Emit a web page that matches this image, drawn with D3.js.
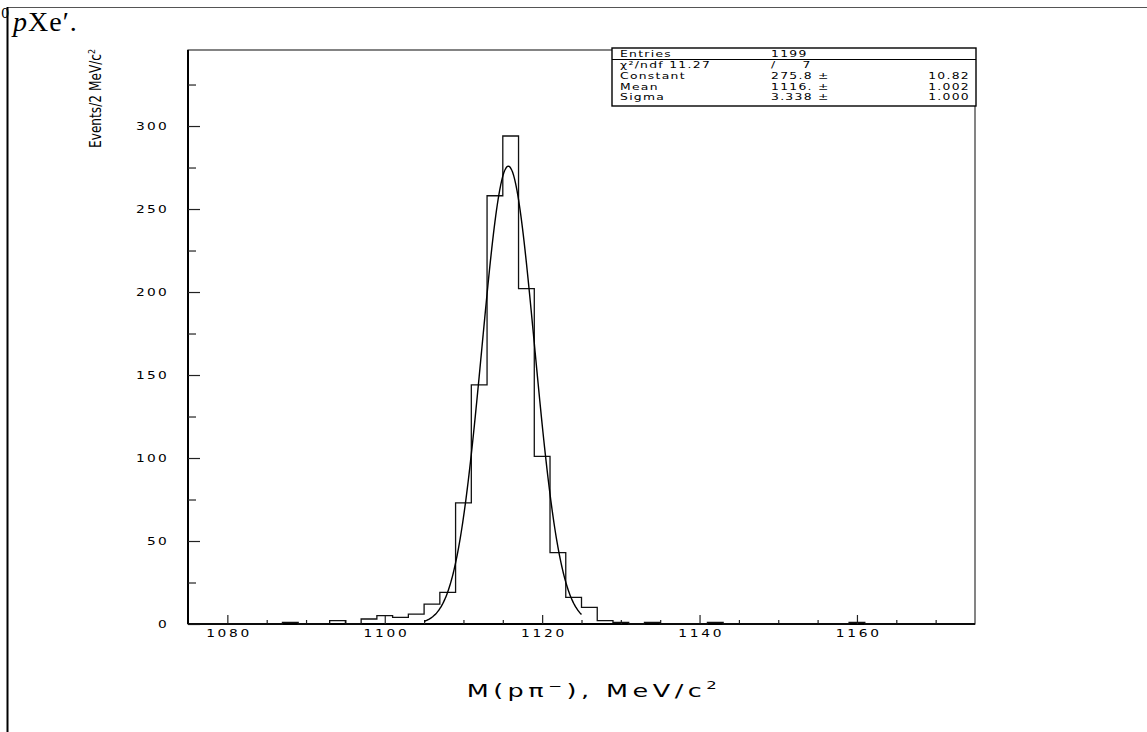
<!DOCTYPE html>
<html>
<head>
<meta charset="utf-8">
<script src="https://cdn.jsdelivr.net/npm/d3@7"></script>
<style>
  body { margin: 0; background: #fff; }
  svg text { font-family: "DejaVu Sans", sans-serif; fill: #000; }
</style>
</head>
<body>
<div class="chartWrapper"></div>
<script>
const pageWidth = 1147, pageHeight = 732;

// histogram: 2 MeV bins, lower edges of the non-empty bins
const binLow = [1087, 1093, 1097, 1099, 1101, 1103, 1105, 1107, 1109, 1111, 1113,
                1115, 1117, 1119, 1121, 1123, 1125, 1127, 1129, 1133, 1141, 1159];
const binCounts = [1, 2, 3, 5, 4, 6, 12, 19, 73, 144, 258,
                   294, 202, 101, 43, 16, 10, 2, 1, 1, 1, 1];
const BIN_WIDTH = 2;
const X_RANGE = [1075, 1175];

const xMajorTicks = [1080, 1100, 1120, 1140, 1160];
const xMinorTicks = [1085, 1090, 1095, 1105, 1110, 1115, 1125, 1130, 1135, 1145, 1150, 1155, 1165, 1170];
const yMajorTicks = [0, 50, 100, 150, 200, 250, 300];
const yMinorTicks = [25, 75, 125, 175, 225, 275, 325];

// gaussian fit parameters (from the stats box)
const FIT_CONSTANT = 275.8, FIT_MEAN = 1115.7, FIT_SIGMA = 3.338;
const FIT_RANGE = [1105, 1125];

const statsRows = [
  ["Entries", "1199", ""],
  ["χ²/ndf 11.27", "/     7", ""],
  ["Constant", "275.8 ±", "10.82"],
  ["Mean", "1116. ±", "1.002"],
  ["Sigma", "3.338 ±", "1.000"]
];

const frame = { left: 188, right: 975, top: 50, bottom: 624 };
const WIDE = 1.25; // horizontal stretch for the wide plotter font

const svg = d3.select(".chartWrapper").append("svg")
  .attr("width", pageWidth)
  .attr("height", pageHeight);

const x = d3.scaleLinear().domain(X_RANGE).range([frame.left, frame.right]);
const y = d3.scaleLinear().domain([0, 345.8]).range([frame.bottom, frame.top]);

// page border bits (top rule + left rule) and the clipped caption
svg.append("line").attr("x1", 7).attr("x2", pageWidth).attr("y1", 7.5).attr("y2", 7.5)
  .attr("stroke", "#555").attr("stroke-width", 1);
svg.append("line").attr("x1", 7.5).attr("x2", 7.5).attr("y1", 7).attr("y2", pageHeight)
  .attr("stroke", "#000").attr("stroke-width", 2);

svg.append("text").attr("x", 1).attr("y", 18)
  .style("font-family", "'DejaVu Serif', serif").style("font-size", "13px").text("0");
const cap = svg.append("text").attr("x", 13).attr("y", 31)
  .style("font-family", "'Liberation Serif', serif").style("font-size", "28px")
  .style("letter-spacing", "1px");
cap.append("tspan").style("font-style", "italic").text("p");
cap.append("tspan").text("Xe′.");

// frame
svg.append("rect")
  .attr("x", frame.left).attr("y", frame.top)
  .attr("width", frame.right - frame.left).attr("height", frame.bottom - frame.top)
  .attr("fill", "none").attr("stroke", "#333").attr("stroke-width", 1.2);
svg.append("line").attr("x1", frame.left).attr("x2", frame.left)
  .attr("y1", frame.top).attr("y2", frame.bottom).attr("stroke", "#000").attr("stroke-width", 2);
svg.append("line").attr("x1", frame.left).attr("x2", frame.right)
  .attr("y1", frame.bottom).attr("y2", frame.bottom).attr("stroke", "#000").attr("stroke-width", 2);

// axes
const xAxis = svg.append("g").attr("transform", `translate(0,${frame.bottom})`)
  .call(d3.axisBottom(x).tickValues(xMajorTicks).tickSize(-9).tickPadding(5).tickFormat(d3.format("d")));
svg.append("g").attr("transform", `translate(0,${frame.bottom})`)
  .call(d3.axisBottom(x).tickValues(xMinorTicks).tickSize(-4).tickFormat(""));
const yAxis = svg.append("g").attr("transform", `translate(${frame.left},0)`)
  .call(d3.axisLeft(y).tickValues(yMajorTicks).tickSize(-12));
svg.append("g").attr("transform", `translate(${frame.left},0)`)
  .call(d3.axisLeft(y).tickValues(yMinorTicks).tickSize(-8).tickFormat(""));

svg.selectAll(".domain").remove();
svg.selectAll(".tick line").attr("stroke", "#222").attr("stroke-width", 1.2);
xAxis.selectAll("text").style("font-size", "11px").style("letter-spacing", "2.2px")
  .attr("dx", "1px").attr("transform", `scale(${WIDE},1)`);
yAxis.selectAll("text").style("font-size", "11px").style("letter-spacing", "1.8px")
  .attr("x", -19 / WIDE).attr("transform", `scale(${WIDE},1)`);

// histogram outline as one step line
const countAt = new Map(binLow.map((lo, i) => [lo, binCounts[i]]));
const edges = d3.range(X_RANGE[0], X_RANGE[1], BIN_WIDTH);
const stepPoints = edges.map(lo => [lo, countAt.get(lo) || 0]);
stepPoints.push([X_RANGE[1], 0]);

svg.append("path")
  .datum(stepPoints)
  .attr("fill", "none").attr("stroke", "#111").attr("stroke-width", 1.3)
  .attr("d", d3.line().x(d => x(d[0])).y(d => y(d[1])).curve(d3.curveStepAfter));

// gaussian fit curve
const fitXs = d3.range(FIT_RANGE[0], FIT_RANGE[1] + 0.05, 0.1);
const gauss = v => FIT_CONSTANT * Math.exp(-0.5 * ((v - FIT_MEAN) / FIT_SIGMA) ** 2);
svg.append("path")
  .datum(fitXs)
  .attr("fill", "none").attr("stroke", "#000").attr("stroke-width", 1.4)
  .attr("d", d3.line().x(d => x(d)).y(d => y(gauss(d))).curve(d3.curveMonotoneX));

// stats box
const box = { left: 612, right: 976, top: 48, bottom: 106 };
svg.append("rect")
  .attr("x", box.left).attr("y", box.top)
  .attr("width", box.right - box.left).attr("height", box.bottom - box.top)
  .attr("fill", "#fff").attr("stroke", "#000").attr("stroke-width", 1.4);
svg.append("line").attr("x1", box.left).attr("x2", box.right)
  .attr("y1", 59.5).attr("y2", 59.5).attr("stroke", "#000").attr("stroke-width", 1.2);

const rowBaselines = [57, 68, 79, 89.5, 100];
const statsText = svg.append("g").style("font-size", "9.5px").style("letter-spacing", "1px");
const stretched = (g, px, py, anchor) => g.append("text")
  .attr("transform", `translate(${px},${py}) scale(1.3,1)`)
  .attr("text-anchor", anchor).style("white-space", "pre");
statsRows.forEach((row, i) => {
  stretched(statsText, 620, rowBaselines[i], "start").text(row[0]);
  stretched(statsText, 771, rowBaselines[i], "start").text(row[1]);
  stretched(statsText, 970, rowBaselines[i], "end").text(row[2]);
});

// axis titles
const xTitle = svg.append("text")
  .attr("transform", "translate(594,697) scale(1.5,1)")
  .attr("text-anchor", "middle")
  .style("font-size", "17px").style("letter-spacing", "3px");
xTitle.append("tspan").text("M(pπ");
xTitle.append("tspan").attr("dy", "-7").style("font-size", "11px").text("−");
xTitle.append("tspan").attr("dy", "7").text("), MeV/c");
xTitle.append("tspan").attr("dy", "-8").style("font-size", "11px").text("2");

const yTitle = svg.append("text")
  .attr("transform", "translate(101,148) rotate(-90)")
  .style("font-family", "'DejaVu Sans Condensed', 'DejaVu Sans', sans-serif")
  .style("font-size", "15px");
yTitle.append("tspan").attr("textLength", 94).attr("lengthAdjust", "spacingAndGlyphs")
  .text("Events/2 MeV/c");
yTitle.append("tspan").attr("dy", "-6").style("font-size", "9px").text("2");
</script>
</body>
</html>
